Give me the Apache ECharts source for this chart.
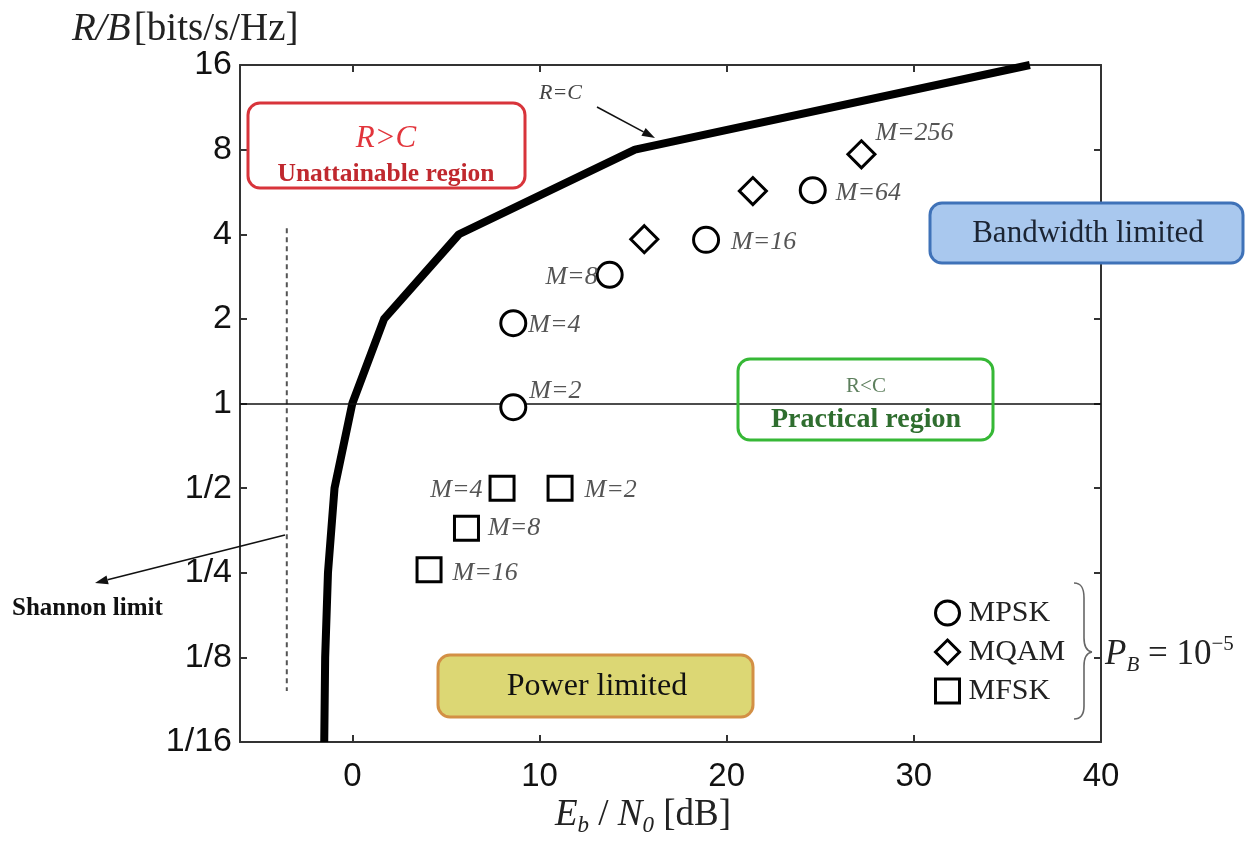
<!DOCTYPE html>
<html><head><meta charset="utf-8">
<script src="https://cdn.jsdelivr.net/npm/echarts@6/dist/echarts.min.js"></script>
<style>html,body{margin:0;padding:0;background:#fff}#c{width:1247px;height:842px}</style>
</head><body><div id="c"></div>
<script>
// ---------- data ----------
const capacityEbN0 = [-1.5, -1.45, -1.3, -0.95, 0, 1.7, 5.7, 15.1, 36.2];
const capacityRate = [0.0625, 0.125, 0.25, 0.5, 1, 2, 4, 8, 16];
const mpskEbN0 = [8.6, 8.6, 13.75, 18.9, 24.6];
const mpskRate = [0.97, 1.93, 2.87, 3.82, 5.74];
const mpskM = ['M=2', 'M=4', 'M=8', 'M=16', 'M=64'];
const mqamEbN0 = [15.6, 21.4, 27.2];
const mqamRate = [3.84, 5.7, 7.7];
const mqamM = ['', '', 'M=256'];
const mfskEbN0 = [11.1, 8.0, 6.1, 4.1];
const mfskRate = [0.5, 0.5, 0.36, 0.256];
const mfskM = ['M=2', 'M=4', 'M=8', 'M=16'];
const shannonEbN0 = [-3.5, -3.5];
const shannonRate = [4.2, 0.095];
const referenceRate = 1;
const xTickValues = [0, 10, 20, 30, 40];
const yTickLabels = ['1/16', '1/8', '1/4', '1/2', '1', '2', '4', '8', '16'];
const legendNames = ['MPSK', 'MQAM', 'MFSK'];

// ---------- styles ----------
const mpskLabelStyle = [
  {position: 'right', distance: 2, offset: [0, -16]},
  {position: 'right', distance: 1, offset: [0, 2]},
  {position: 'left', distance: -2, offset: [0, 2]},
  {position: 'right', distance: 11, offset: [0, 2]},
  {position: 'right', distance: 9, offset: [0, 3]}
];
const mqamLabelStyle = [
  {position: 'right', distance: 0},
  {position: 'right', distance: 0},
  {position: 'right', distance: -1, offset: [0, -21]}
];
const mfskLabelStyle = [
  {position: 'right', distance: 11, offset: [0, 2]},
  {position: 'left', distance: 6, offset: [0, 2]},
  {position: 'right', distance: 8, offset: [0, 0]},
  {position: 'right', distance: 10, offset: [0, 3]}
];

const SERIF = '"Liberation Serif", "DejaVu Serif", serif';
const SANS = '"Liberation Sans", Arial, sans-serif';

function zip(xs, ys) { return xs.map((x, i) => [x, ys[i]]); }
function pts(xs, ys, names, styles) {
  return xs.map((x, i) => ({name: names[i], value: [x, ys[i]], label: styles[i]}));
}
const labelBase = {show: true, formatter: '{b}', fontFamily: SERIF, fontStyle: 'italic', fontSize: 26, color: '#555'};
const markerStyle = {color: '#fff', borderColor: '#000', borderWidth: 3, opacity: 1};

function arrow(x1, y1, x2, y2) {
  const a = Math.atan2(y2 - y1, x2 - x1), len = 13, w = 4.5;
  const bx = x2 - len * Math.cos(a), by = y2 - len * Math.sin(a);
  return [
    {type: 'line', z: 20, shape: {x1: x1, y1: y1, x2: bx, y2: by}, style: {stroke: '#111', lineWidth: 1.6}},
    {type: 'polygon', z: 20, shape: {points: [[x2, y2], [bx + w * Math.sin(a), by - w * Math.cos(a)], [bx - w * Math.sin(a), by + w * Math.cos(a)]]}, style: {fill: '#111'}}
  ];
}
function box(x, y, w, h, fill, stroke) {
  return {type: 'rect', z: 15, shape: {x: x, y: y, width: w, height: h, r: 12}, style: {fill: fill, stroke: stroke, lineWidth: 3}};
}
function txt(x, y, text, font, color, extra) {
  return Object.assign({type: 'text', z: 16, x: x, y: y,
    style: Object.assign({text: text, font: font, fill: color, align: 'center', verticalAlign: 'middle'}, extra || {})});
}
const braceStyle = {fill: 'none', stroke: '#666', lineWidth: 1.6};
function bez(x1, y1, c1x, c1y, c2x, c2y, x2, y2) {
  return {type: 'bezierCurve', z: 16, shape: {x1: x1, y1: y1, cpx1: c1x, cpy1: c1y, cpx2: c2x, cpy2: c2y, x2: x2, y2: y2}, style: braceStyle};
}
function seg(x1, y1, x2, y2) {
  return {type: 'line', z: 16, shape: {x1: x1, y1: y1, x2: x2, y2: y2}, style: braceStyle};
}

const axisLineStyle = {color: '#333', width: 2};
const xAxisCommon = {type: 'value', min: -6, max: 40, splitLine: {show: false},
  axisLine: {onZero: false, lineStyle: axisLineStyle},
  axisTick: {inside: true, length: 7, customValues: xTickValues, lineStyle: axisLineStyle}};
const yAxisCommon = {type: 'log', logBase: 2, min: 1 / 16, max: 16, splitLine: {show: false},
  axisLine: {onZero: false, lineStyle: axisLineStyle},
  axisTick: {inside: true, length: 7, lineStyle: axisLineStyle}};

const chart = echarts.init(document.getElementById('c'), null, {renderer: 'canvas'});
chart.setOption({
  backgroundColor: '#fff',
  animation: false,
  grid: {left: 240, top: 65, width: 861, height: 677, containLabel: false},
  xAxis: [
    Object.assign({}, xAxisCommon, {position: 'bottom',
      axisLabel: {customValues: xTickValues, fontFamily: SANS, fontSize: 33, color: '#111', margin: 18}}),
    Object.assign({}, xAxisCommon, {position: 'top', axisLabel: {show: false}})
  ],
  yAxis: [
    Object.assign({}, yAxisCommon, {position: 'left',
      axisLabel: {fontFamily: SANS, fontSize: 34, color: '#111', margin: 8,
        formatter: v => yTickLabels[Math.round(Math.log2(v)) + 4]}}),
    Object.assign({}, yAxisCommon, {position: 'right', axisLabel: {show: false}})
  ],
  legend: {
    orient: 'vertical', left: 929, top: 593, itemWidth: 24, itemHeight: 24, itemGap: 9,
    data: [{name: legendNames[0], icon: 'circle'}, {name: legendNames[1], icon: 'diamond'}, {name: legendNames[2], icon: 'rect'}],
    itemStyle: {borderWidth: 3, borderColor: '#000'},
    textStyle: {fontFamily: SERIF, fontSize: 30, color: '#222', padding: [0, 0, 0, 4]}
  },
  series: [
    {name: 'capacity', type: 'line', data: zip(capacityEbN0, capacityRate), symbol: 'none', z: 3,
      lineStyle: {color: '#000', width: 8, join: 'round'},
      markLine: {silent: true, symbol: ['none', 'none'], label: {show: false},
        lineStyle: {color: '#111', width: 1.5, type: 'solid'}, data: [{yAxis: referenceRate}]}},
    {name: 'shannon', type: 'line', data: zip(shannonEbN0, shannonRate), symbol: 'none', z: 2,
      lineStyle: {color: '#555', width: 2, type: [5, 4]}},
    {name: legendNames[0], type: 'scatter', symbol: 'circle', symbolSize: 25, z: 5,
      itemStyle: markerStyle, label: labelBase, data: pts(mpskEbN0, mpskRate, mpskM, mpskLabelStyle)},
    {name: legendNames[1], type: 'scatter', symbol: 'diamond', symbolSize: 27, z: 5,
      itemStyle: markerStyle, label: labelBase, data: pts(mqamEbN0, mqamRate, mqamM, mqamLabelStyle)},
    {name: legendNames[2], type: 'scatter', symbol: 'rect', symbolSize: 24, z: 5,
      itemStyle: markerStyle, label: labelBase, data: pts(mfskEbN0, mfskRate, mfskM, mfskLabelStyle)}
  ],
  graphic: [].concat(
    [
      // axis titles
      {type: 'text', z: 16, x: 72, y: 30, style: {
        text: '{i|R/B} {n|[bits/s/Hz]}', verticalAlign: 'middle', align: 'left',
        rich: {i: {fontFamily: SERIF, fontStyle: 'italic', fontSize: 39, fill: '#222'},
               n: {fontFamily: SERIF, fontSize: 39, fill: '#222'}}}},
      {type: 'text', z: 16, x: 643, y: 815, style: {
        text: '{i|E}{s|b}{n| / }{i|N}{s|0}{n| [dB]}', verticalAlign: 'middle', align: 'center',
        rich: {i: {fontFamily: SERIF, fontStyle: 'italic', fontSize: 37, fill: '#222', lineHeight: 44, verticalAlign: 'middle'},
               s: {fontFamily: SERIF, fontStyle: 'italic', fontSize: 23, fill: '#222', lineHeight: 20, verticalAlign: 'bottom'},
               n: {fontFamily: SERIF, fontSize: 37, fill: '#222', lineHeight: 44, verticalAlign: 'middle'}}}},
      // boxes
      box(248, 103, 277, 85, '#fff', '#d8343b'),
      txt(386, 139, 'R>C', 'italic 31px ' + SERIF, '#e2353c'),
      txt(386, 174, 'Unattainable region', 'bold 25.5px ' + SERIF, '#c0282e'),
      box(930, 203, 313, 60, '#a9c8ee', '#3f72b8'),
      txt(1088, 234, 'Bandwidth limited', '31px ' + SERIF, '#1b2433'),
      box(738, 359, 255, 81, 'rgba(0,0,0,0)', '#36b836'),
      txt(866, 386, 'R<C', '21px ' + SERIF, '#5d7f5d'),
      txt(866, 420, 'Practical region', 'bold 28px ' + SERIF, '#2f6e2f'),
      box(438, 655, 315, 62, '#dcd774', '#d39045'),
      txt(597, 687, 'Power limited', '32px ' + SERIF, '#111'),
      // annotations
      txt(539, 93, 'R=C', 'italic 22px ' + SERIF, '#444', {align: 'left'}),
      txt(12, 609, 'Shannon limit', 'bold 25px ' + SERIF, '#111', {align: 'left'}),
      // brace
      bez(1074, 583, 1082, 583, 1084, 589, 1084, 598),
      seg(1084, 598, 1084, 638),
      bez(1084, 638, 1084, 646, 1086, 651, 1092, 652),
      bez(1092, 652, 1086, 653, 1084, 658, 1084, 666),
      seg(1084, 666, 1084, 706),
      bez(1084, 706, 1084, 714, 1081, 719, 1074, 719),
      {type: 'text', z: 16, x: 1105, y: 655, style: {
        text: '{i|P}{s|B}{n| = 10}{e|−5}', verticalAlign: 'middle', align: 'left',
        rich: {i: {fontFamily: SERIF, fontStyle: 'italic', fontSize: 35, fill: '#222', lineHeight: 42, verticalAlign: 'middle'},
               s: {fontFamily: SERIF, fontStyle: 'italic', fontSize: 21, fill: '#222', lineHeight: 19, verticalAlign: 'bottom'},
               n: {fontFamily: SERIF, fontSize: 35, fill: '#222', lineHeight: 42, verticalAlign: 'middle'},
               e: {fontFamily: SERIF, fontSize: 21, fill: '#222', lineHeight: 19, verticalAlign: 'top'}}}}
    ],
    arrow(597, 107, 655, 138),
    arrow(285, 535, 95, 583)
  )
});
</script>
</body></html>
